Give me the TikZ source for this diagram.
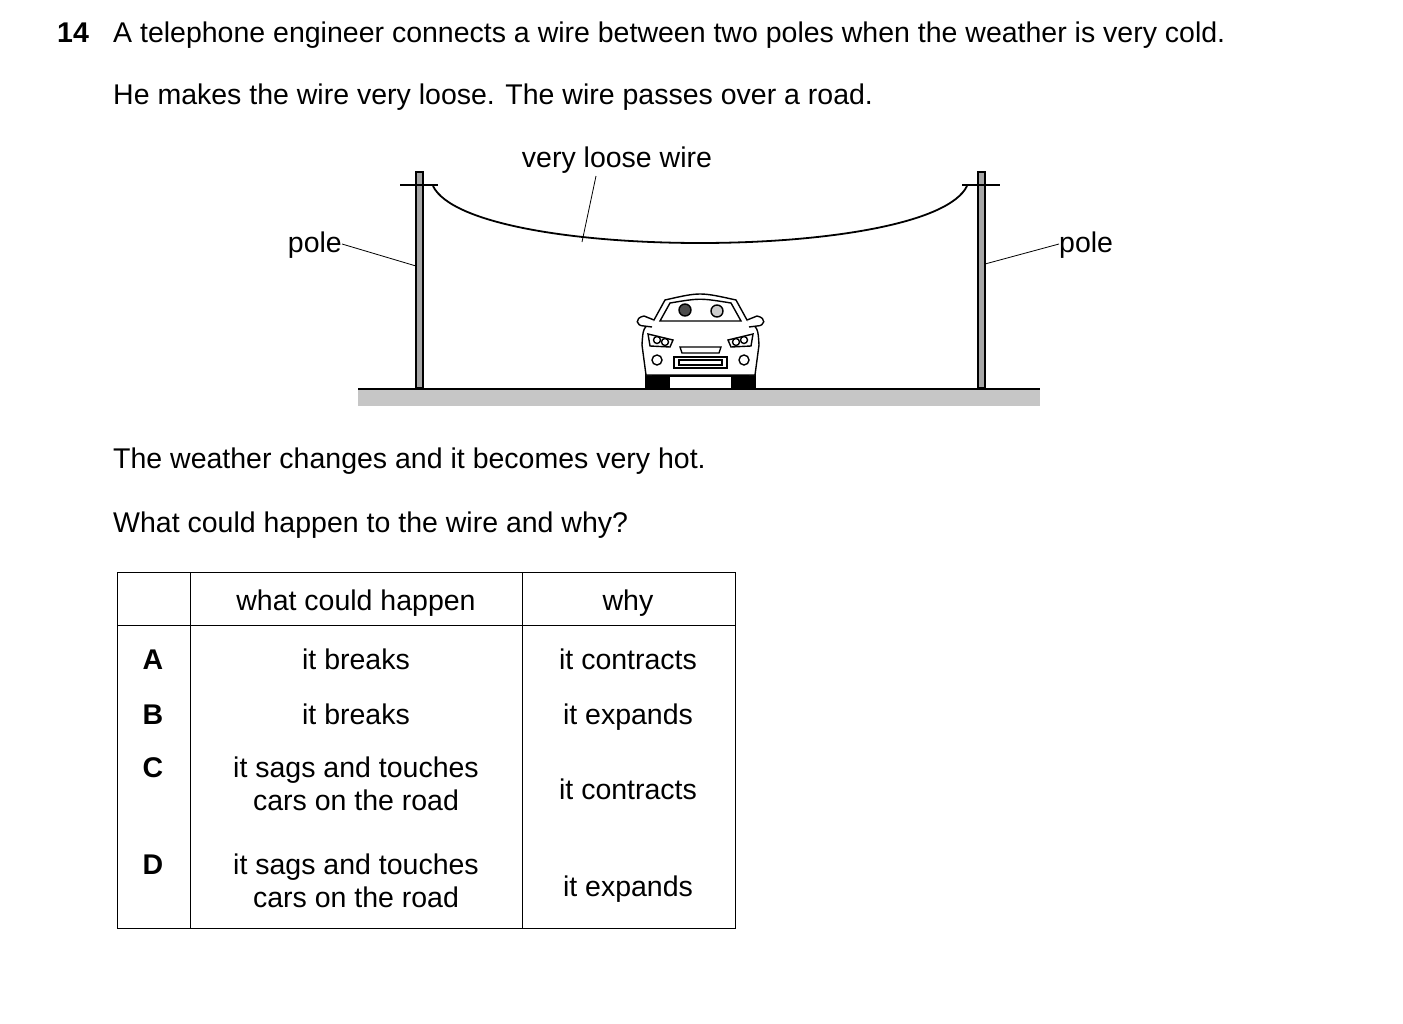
\documentclass[tikz,border=0pt]{standalone}
\usepackage{fontspec}
\setmainfont{Liberation Sans}
\begin{document}
\begin{tikzpicture}[x=1pt,y=-1pt,
 txt/.style={font=\fontsize{28.5}{33}\selectfont, inner sep=0pt, anchor=base},
 bld/.style={font=\fontsize{28.5}{33}\selectfont\bfseries, inner sep=0pt, anchor=base},
 pole/.style={draw=black, fill=gray!70, line width=2pt},
 lead/.style={line width=0.8pt}]
\useasboundingbox (0,0) rectangle (1403,1023);
\node[bld,anchor=base west] (q) at (57,42) {14};
\node[txt,anchor=base west] (l1) at (113,42) {A telephone engineer connects a wire between two poles when the weather is very cold.};
\node[txt,anchor=base west] (l2) at (113,104) {He makes the wire very loose. The wire passes over a road.};
% road
\fill[gray!45] (358,390) rectangle (1040,406);
\draw[line width=2pt] (358,389) -- (1040,389);
% poles
\draw[pole] (416,172) rectangle (423,388);
\draw[pole] (978,172) rectangle (985,388);
\draw[line width=2.8pt] (400,185) -- (438,185);
\draw[line width=2.8pt] (962,185) -- (1000,185);
% wire
\coordinate (wl) at (433,186);
\coordinate (wr) at (967,186);
\draw[line width=1.8pt] (wl) .. controls (470,262) and (930,262) .. (wr);
\node[txt] (vlw) at (617,167) {very loose wire};
\coordinate (wp) at (582,242);
\draw[lead] (596,176) -- (wp);
\node[txt,anchor=base east] (pl) at (342,252) {pole};
\node[txt,anchor=base west] (pr) at (1059,252) {pole};
\coordinate (pla) at (416,266);
\coordinate (pra) at (985,264);
\draw[lead] (342,244) -- (pla);
\draw[lead] (1059,244) -- (pra);
% car
\begin{scope}[line width=1.4pt]
\fill[black] (645,370) rectangle (670,388);
\fill[black] (731,370) rectangle (756,388);
\draw[fill=white] (646,375) -- (642,345) .. controls (643,328) .. (654,320) -- (665,300) .. controls (700,292) .. (736,300) -- (747,320) .. controls (758,328) .. (759,345) -- (755,375) -- cycle;
\draw[fill=white] (660,321) -- (670,303) .. controls (700,298) .. (731,303) -- (741,321) -- cycle;
\draw[fill=white] (654,320) -- (644,316) .. controls (634,318) and (636,326) .. (644,326) -- (652,327);
\draw[fill=white] (747,320) -- (757,316) .. controls (767,318) and (765,326) .. (757,326) -- (749,327);
\draw[fill=black!70] (685,310) circle (6);
\draw[fill=gray!40] (717,311) circle (6);
\draw (648,334) -- (673,340) -- (670,347) -- (650,346) -- cycle;
\draw (753,334) -- (728,340) -- (731,347) -- (751,346) -- cycle;
\draw (657,340) circle (3.5); \draw (665,342) circle (3.5);
\draw (744,340) circle (3.5); \draw (736,342) circle (3.5);
\draw (680,347) -- (721,347) -- (719,353) -- (682,353) -- cycle;
\draw (674,357) rectangle (727,368);
\draw (679,360) rectangle (722,365);
\draw (657,360) circle (5); \draw (744,360) circle (5);
\draw (652,376) -- (749,376);
\end{scope}
\node[txt,anchor=base west] (l3) at (113,468) {The weather changes and it becomes very hot.};
\node[txt,anchor=base west] (l4) at (113,532) {What could happen to the wire and why?};
% table
\draw[line width=1pt] (117,572) rectangle (735,928);
\draw[line width=1pt] (190,572) -- (190,928) (522,572) -- (522,928) (117,625) -- (735,625);
\node[txt] (h1) at (356,610) {what could happen};
\node[txt] (h2) at (628,610) {why};
\node[bld] (A) at (153,669) {A};
\node[bld] (B) at (153,724) {B};
\node[bld] (C) at (153,777) {C};
\node[bld] (D) at (153,874) {D};
\node[txt] (a1) at (356,669) {it breaks};
\node[txt] (a2) at (628,669) {it contracts};
\node[txt] (b1) at (356,724) {it breaks};
\node[txt] (b2) at (628,724) {it expands};
\node[txt] (c1) at (356,777) {it sags and touches};
\node[txt] (c1b) at (356,810) {cars on the road};
\node[txt] (c2) at (628,799) {it contracts};
\node[txt] (d1) at (356,874) {it sags and touches};
\node[txt] (d1b) at (356,907) {cars on the road};
\node[txt] (d2) at (628,896) {it expands};
\end{tikzpicture}
\end{document}
